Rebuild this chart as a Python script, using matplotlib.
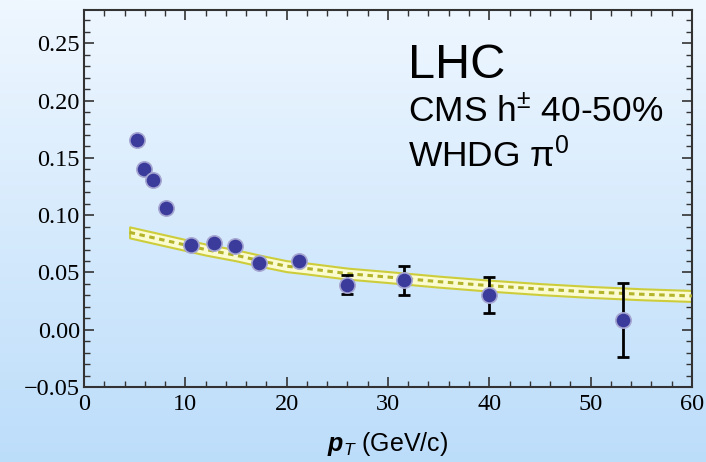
import numpy as np
import matplotlib.pyplot as plt
from matplotlib.ticker import MultipleLocator, FuncFormatter

plt.rcParams['mathtext.fontset'] = 'custom'
plt.rcParams['mathtext.rm'] = 'Liberation Sans'
plt.rcParams['mathtext.it'] = 'Liberation Sans:italic'
plt.rcParams['mathtext.bf'] = 'Liberation Sans:italic:bold'

# CMS h+- v2, 40-50% centrality
pt = [5.2, 5.9, 6.8, 8.1, 10.6, 12.8, 14.9, 17.3, 21.2, 26.0, 31.6, 40.0, 53.2]
v2 = [0.1655, 0.1407, 0.1305, 0.1064, 0.0740, 0.0758, 0.0728, 0.0583, 0.0600,
      0.0393, 0.0431, 0.0306, 0.0087]
v2_err = [0, 0, 0, 0, 0, 0, 0, 0, 0, 0.0085, 0.0125, 0.0157, 0.0323]

# WHDG pi0 band
pt_th = [4.5, 6, 8, 10, 12, 15, 17.5, 20, 22, 26, 30, 35, 40, 45, 50, 55, 60]
v2_th = [0.085, 0.082, 0.078, 0.074, 0.070, 0.065, 0.060, 0.0555, 0.0535,
         0.049, 0.046, 0.042, 0.0385, 0.0355, 0.033, 0.031, 0.0295]
v2_th_lo = [v - 0.0048 for v in v2_th]
v2_th_hi = [v + 0.0048 for v in v2_th]

W, H = 706, 462
fig = plt.figure(figsize=(W / 100, H / 100), dpi=100)

# background gradient over the whole figure
bg = fig.add_axes([0, 0, 1, 1], zorder=-10)
grad = np.linspace(0, 1, 256).reshape(-1, 1)
top = np.array([239, 247, 255]) / 255
bot = np.array([188, 221, 250]) / 255
img = top[None, None, :] * (1 - grad[:, :, None]) + bot[None, None, :] * grad[:, :, None]
bg.imshow(img, aspect='auto', extent=[0, 1, 0, 1])
bg.axis('off')

ax = fig.add_axes([0.119, 0.1623, 0.861, 0.8157])
ax.set_facecolor('none')

# theory band
ax.fill_between(pt_th, v2_th_lo, v2_th_hi, facecolor='#fbfbd2',
                edgecolor='#cdcd3c', linewidth=1.5, zorder=2)
ax.plot(pt_th, v2_th, color='#b4b42a', linewidth=2.2, linestyle=(0, (1.8, 1.5)), zorder=3)

# data
ax.errorbar(pt, v2, yerr=v2_err, fmt='none', ecolor='black', elinewidth=2,
            capsize=4, capthick=2, zorder=4)
ax.plot(pt, v2, 'o', color='#3b3b9c', markersize=11, markeredgecolor='#a6a6d2',
        markeredgewidth=1.2, zorder=5)

ax.set_xlim(0, 60)
ax.set_ylim(-0.05, 0.279)
ax.xaxis.set_major_locator(MultipleLocator(10))
ax.xaxis.set_minor_locator(MultipleLocator(2))
ax.yaxis.set_major_locator(MultipleLocator(0.05))
ax.yaxis.set_minor_locator(MultipleLocator(0.01))
ax.yaxis.set_major_formatter(FuncFormatter(lambda v, p: ('%.2f' % v).replace('-', '\u2212')))
ax.tick_params(which='both', direction='in', top=True, right=True, color='#333333')
ax.tick_params(which='major', length=7, width=1.2, labelsize=17.5)
ax.tick_params(axis='y', which='major', pad=3)
ax.tick_params(axis='x', which='major', pad=5)
ax.tick_params(which='minor', length=4, width=1.0)
for lab in ax.get_xticklabels() + ax.get_yticklabels():
    lab.set_family('Liberation Serif')
for s in ax.spines.values():
    s.set_color('#333333')
    s.set_linewidth(1.5)

ax.set_xlabel(r'$\mathbf{p}_T$ (GeV/c)', family='Liberation Sans', fontsize=18, labelpad=11)

tf = fig.transFigure
ax.text(408 / W, 1 - 78 / H, 'LHC', transform=tf, family='Liberation Sans', fontsize=35)
ax.text(408 / W, 1 - 122 / H, 'CMS h$^{\\pm}$ 40-50%', transform=tf,
        family='Liberation Sans', fontsize=25.5)
ax.text(408 / W, 1 - 167 / H, 'WHDG \u03c0$^0$', transform=tf,
        family='Liberation Sans', fontsize=25.5)

fig.text(0.006, 0.57, '$v_2$', rotation=90, ha='right', va='center', fontsize=16)

fig.savefig('out.png', dpi=100)
